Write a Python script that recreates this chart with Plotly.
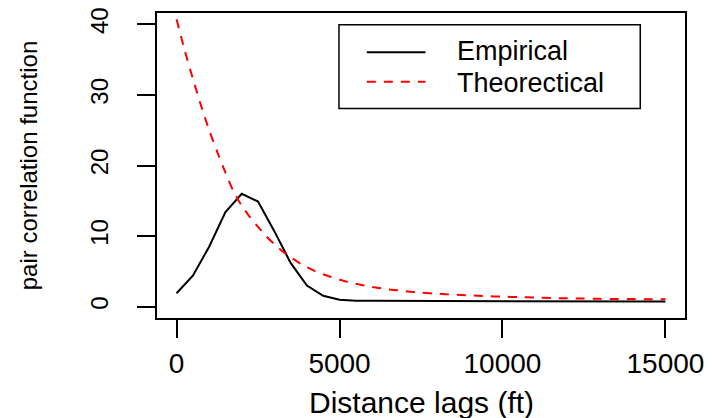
import plotly.graph_objects as go

# Empirical pair correlation function, evaluated every 500 ft
emp_lag = [0, 500, 1000, 1500, 2000, 2500, 3000, 3500, 4000, 4500, 5000,
           5500, 6000, 6500, 7000, 7500, 8000, 8500, 9000, 9500, 10000,
           10500, 11000, 11500, 12000, 12500, 13000, 13500, 14000, 14500, 15000]
emp_g = [1.9, 4.4, 8.5, 13.4, 16.0, 14.9, 10.7, 6.2, 3.0, 1.55, 1.0,
         0.86, 0.83, 0.82, 0.81, 0.80, 0.80, 0.79, 0.79, 0.78, 0.78,
         0.77, 0.77, 0.76, 0.76, 0.76, 0.75, 0.75, 0.75, 0.74, 0.74]

# Theoretical (fitted) pair correlation function
theo_lag = [0, 250, 500, 750, 1000, 1250, 1500, 1750, 2000, 2250, 2500,
            2750, 3000, 3250, 3500, 3750, 4000, 4250, 4500, 4750, 5000,
            5500, 6000, 6500, 7000, 7500, 8000, 8500, 9000, 9500, 10000,
            10500, 11000, 11500, 12000, 12500, 13000, 13500, 14000, 14500, 15000]
theo_g = [40.7, 36.3, 32.3, 28.5, 25.0, 21.9, 19.0, 16.3, 14.3, 12.7, 11.3,
          10.0, 8.85, 7.85, 7.0, 6.25, 5.6, 5.05, 4.6, 4.2, 3.82,
          3.25, 2.8, 2.46, 2.22, 1.98, 1.84, 1.71, 1.6, 1.5, 1.42,
          1.36, 1.3, 1.24, 1.19, 1.15, 1.11, 1.09, 1.08, 1.07, 1.06]

x_ticks = [0, 5000, 10000, 15000]
y_ticks = [0, 10, 20, 30, 40]
legend_labels = ["Empirical", "Theorectical"]

FONT = "Liberation Sans, Arial, sans-serif"
EMP_LINE = dict(color="black", width=2)
THEO_LINE = dict(color="#ff0000", width=2, dash="9px,8px")

# plot region in pixels (used to place the boxed legend in paper units)
L, R, T, B = 157, 688, 8, 318


def px(x):
    return (x - L) / (R - L)


def py(y):
    return (B - y) / (B - T)


fig = go.Figure()
fig.add_trace(go.Scatter(x=emp_lag, y=emp_g, mode="lines", name=legend_labels[0],
                         line=EMP_LINE))
fig.add_trace(go.Scatter(x=theo_lag, y=theo_g, mode="lines", name=legend_labels[1],
                         line=dict(**THEO_LINE, shape="spline", smoothing=0.6)))

axis_common = dict(showgrid=False, zeroline=False, showline=True, mirror=True,
                   linecolor="black", linewidth=1.5, ticks="outside",
                   ticklen=18, tickwidth=1.5, tickcolor="black")

# boxed legend in the upper right of the panel
shapes = [
    dict(type="rect", xref="paper", yref="paper",
         x0=px(340), x1=px(643), y0=py(105), y1=py(20),
         line=dict(color="black", width=1.5), fillcolor="white", layer="above"),
    dict(type="line", xref="paper", yref="paper",
         x0=px(368), x1=px(427), y0=py(48), y1=py(48),
         line=EMP_LINE, layer="above"),
    dict(type="line", xref="paper", yref="paper",
         x0=px(368), x1=px(427), y0=py(78), y1=py(78),
         line=THEO_LINE, layer="above"),
]

annotations = [
    dict(text=legend_labels[0], xref="paper", yref="paper",
         x=px(457), y=py(47), xanchor="left", yanchor="middle",
         showarrow=False, font=dict(size=27, family=FONT)),
    dict(text=legend_labels[1], xref="paper", yref="paper",
         x=px(457), y=py(79), xanchor="left", yanchor="middle",
         showarrow=False, font=dict(size=27, family=FONT)),
    dict(text="Distance lags (ft)", xref="paper", yref="paper",
         x=0.5, y=py(404), xanchor="center", yanchor="middle",
         showarrow=False, font=dict(size=30, family=FONT)),
    dict(text="pair correlation function", xref="paper", yref="paper",
         x=px(28), y=0.5, xanchor="center", yanchor="middle",
         textangle=-90, showarrow=False, font=dict(size=24, family=FONT)),
]

fig.update_layout(
    width=712, height=418,
    margin=dict(l=L, r=712 - R, t=T, b=418 - B),
    paper_bgcolor="white", plot_bgcolor="white",
    font=dict(family=FONT, color="black"),
    xaxis=dict(range=[-600, 15600], tickvals=x_ticks,
               ticktext=[str(v) for v in x_ticks],
               tickfont=dict(size=28, family=FONT), ticklabelstandoff=2,
               **axis_common),
    yaxis=dict(range=[-1.6, 41.6], tickvals=y_ticks,
               ticktext=[str(v) for v in y_ticks], tickangle=-90,
               tickfont=dict(size=24, family=FONT), ticklabelstandoff=20,
               **axis_common),
    showlegend=False,
    shapes=shapes,
    annotations=annotations,
)

fig.write_html("out.html")
